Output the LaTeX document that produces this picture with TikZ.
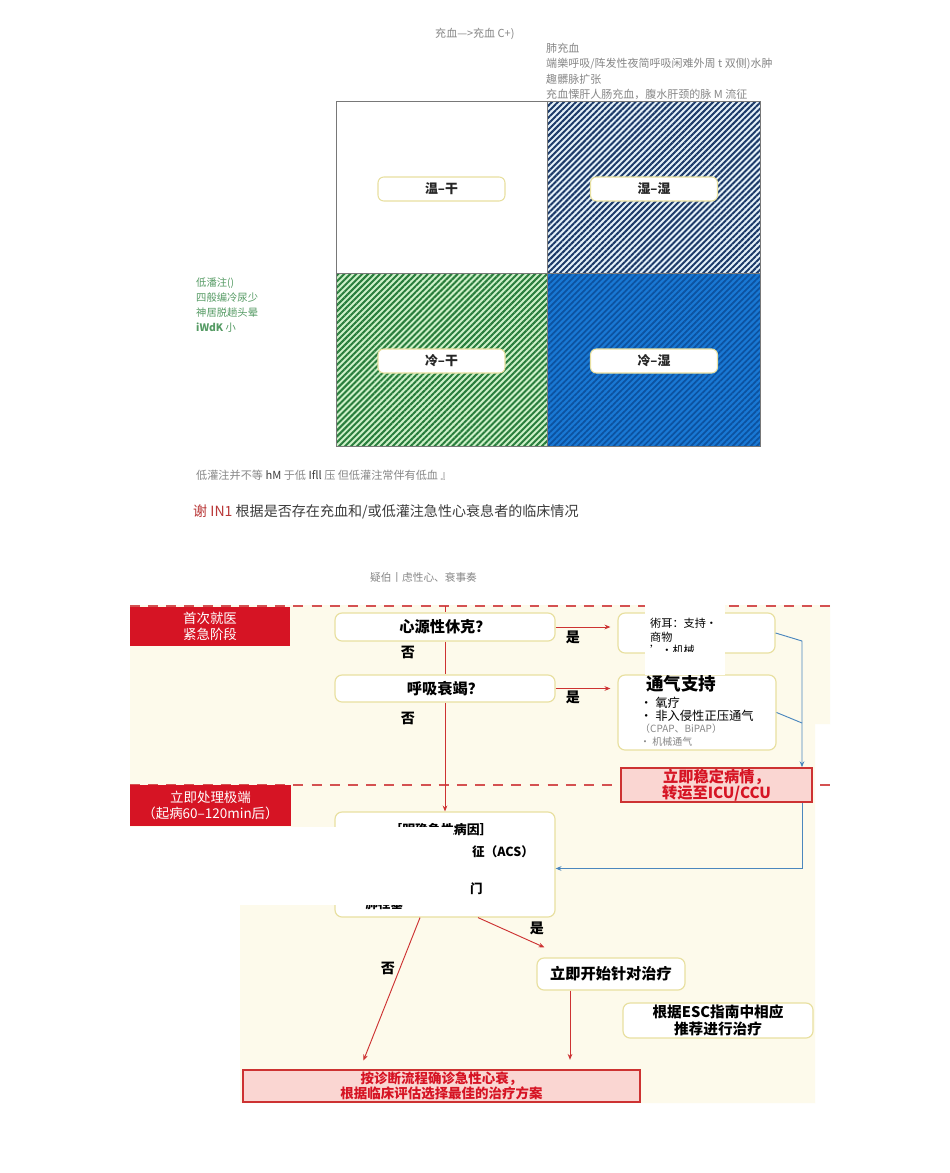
\documentclass[tikz,border=0pt]{standalone}
\usepackage{fontspec}
\setmainfont{Noto Sans CJK SC}
\usetikzlibrary{arrows.meta,positioning,calc,patterns.meta}
\definecolor{inkGray}{RGB}{135,135,135}
\definecolor{inkDark}{RGB}{60,60,60}
\definecolor{leafGreen}{RGB}{85,155,100}
\definecolor{capRed}{RGB}{185,55,55}
\definecolor{creamBg}{RGB}{253,250,235}
\definecolor{alarmRed}{RGB}{214,20,36}
\definecolor{flowRed}{RGB}{205,50,50}
\definecolor{pinkFill}{RGB}{250,214,210}
\definecolor{boxEdge}{RGB}{232,224,160}
\definecolor{linkBlue}{RGB}{75,135,190}
\definecolor{navyLine}{RGB}{28,58,105}
\definecolor{paleBlue}{RGB}{228,240,248}
\definecolor{grassLine}{RGB}{40,125,60}
\definecolor{paleGreen}{RGB}{205,240,200}
\definecolor{deepBlue}{RGB}{25,120,212}
\definecolor{stripeBlue}{RGB}{12,82,160}
\definecolor{frameGray}{RGB}{120,120,120}
\tikzset{
  noteText/.style={anchor=west, inner sep=0pt, text=inkGray, font=\fontsize{9.4pt}{11pt}\selectfont},
  quadTag/.style={draw=boxEdge, line width=0.9pt, fill=white, rounded corners=5pt, minimum width=3.81cm, minimum height=0.72cm, inner sep=0pt, text=black!85, font=\fontsize{11pt}{13pt}\selectfont\bfseries},
  phaseBox/.style={fill=alarmRed, text=white, align=center, inner sep=0pt, minimum width=4.8cm, minimum height=1.17cm, font=\fontsize{11.5pt}{13.5pt}\selectfont},
  askBox/.style={draw=boxEdge, line width=1pt, fill=white, rounded corners=6pt, inner sep=0pt, text=black, font=\fontsize{13pt}{15pt}\selectfont\bfseries},
  urgeBox/.style={draw=flowRed, line width=1.4pt, fill=pinkFill, inner sep=0pt, align=center, text=alarmRed},
  redLink/.style={draw=flowRed, line width=0.8pt},
  redArrow/.style={redLink, -{Stealth[length=5pt,width=4pt]}},
  blueLink/.style={draw=linkBlue, line width=0.8pt},
  blueArrow/.style={blueLink, -{Stealth[length=5pt,width=4pt]}},
  answer/.style={inner sep=0pt, font=\fontsize{12pt}{14pt}\selectfont\bfseries},
  phaseRule/.style={draw=flowRed!85, line width=1.3pt, dash pattern=on 8.5pt off 7pt},
  scrapText/.style={anchor=west, inner sep=0pt, font=\fontsize{9.5pt}{11pt}\selectfont}
}
\begin{document}
\begin{tikzpicture}[x=0.03cm, y=-0.03cm]
\fill[white] (0,0) rectangle (950,1173);
\useasboundingbox (0,0) rectangle (950,1173);

% upper figure
\node[noteText] (congTitle) at (435,34) {充血—>充血 C+)};
\node[noteText] (congA) at (546,48) {肺充血};
\node[noteText] (congB) at (546,64) {端樂呼吸/阵发性夜简呼吸闲难外周 t 双侧)水肿};
\node[noteText] (congC) at (546,79) {趣髒脉扩张};
\node[noteText] (congD) at (546,94) {充血慄肝人肠充血，腹水肝颈的脉 M 流征};

\fill[paleBlue] (547,101) rectangle (760,273);
\fill[pattern={Lines[angle=45,distance=3.6pt,line width=1.7pt]}, pattern color=navyLine] (547,101) rectangle (760,273);
\fill[paleGreen] (336,273) rectangle (547,446);
\fill[pattern={Lines[angle=45,distance=3.6pt,line width=1.7pt]}, pattern color=grassLine] (336,273) rectangle (547,446);
\fill[deepBlue] (547,273) rectangle (760,446);
\fill[pattern={Lines[angle=45,distance=3.6pt,line width=1.5pt]}, pattern color=stripeBlue] (547,273) rectangle (760,446);
\draw[frameGray, line width=0.7pt] (336,101) rectangle (760,446) (547,101) -- (547,446) (336,273) -- (760,273);

\node[quadTag] (warmDry) at (441.5,189) {温–干};
\node[quadTag] (warmWet) at (654,189) {湿–湿};
\node[quadTag] (coldDry) at (441.5,361) {冷–干};
\node[quadTag] (coldWet) at (654,361) {冷–湿};

\node[noteText, text=leafGreen, font=\fontsize{8.8pt}{10pt}\selectfont] (lowA) at (196,283) {低潘注()};
\node[noteText, text=leafGreen, font=\fontsize{8.8pt}{10pt}\selectfont] (lowB) at (196,298) {四般编冷尿少};
\node[noteText, text=leafGreen, font=\fontsize{8.8pt}{10pt}\selectfont] (lowC) at (196,313) {神居脱趟头晕};
\node[noteText, text=leafGreen, font=\fontsize{8.8pt}{10pt}\selectfont] (lowD) at (196,328) {\textbf{iWdK} 小};

\node[noteText, font=\fontsize{9.5pt}{11pt}\selectfont] (lowNote) at (196,475) {低灌注并不等 {\color{inkDark}hM} 于低 {\color{inkDark}Ifll} 压 但低灌注常伴有低血 』};
\node[noteText, text=inkDark, font=\fontsize{12pt}{14pt}\selectfont] (figCap) at (193,512) {{\color{capRed}谢 IN1} 根据是否存在充血和/或低灌注急性心衰息者的临床情况};
\node[noteText, font=\fontsize{9.1pt}{11pt}\selectfont] (flowCap) at (370,577) {疑伯丨虑性心、衰事奏};

% flow chart
\fill[creamBg] (130,605) -- (830,605) -- (830,724) -- (815,724) -- (815,1103) -- (240,1103) -- (240,828) -- (130,828) -- cycle;
\draw[phaseRule] (130,606) -- (830,606);
\draw[phaseRule] (130,785) -- (830,785);
\node[phaseBox] (firstVisit) at (210,626.5) {首次就医\\紧急阶段};
\node[phaseBox, minimum height=1.23cm] (swiftCare) at (210.5,805.5) {立即处理极端\\（起病60–120min后）};

\coordinate (trunkTop) at (445,606);
\node[askBox, minimum width=6.6cm, minimum height=0.84cm] (shockQ) at (445,627) {心源性休克？};
\node[askBox, minimum width=6.6cm, minimum height=0.81cm] (breathQ) at (445,688.5) {呼吸衰竭？};
\node[askBox, minimum width=4.71cm, minimum height=1.2cm] (drugBox) at (696.5,633) {};
\node[askBox, minimum width=4.74cm, minimum height=2.25cm] (ventBox) at (697,712.5) {};
\node[scrapText, font=\fontsize{15pt}{17pt}\selectfont\bfseries] (ventTitle) at (646,684) {通气支持};
\node[anchor=north west, align=left, inner sep=0pt, font=\fontsize{10.5pt}{10.8pt}\selectfont] (ventText) at (640,697) {• 氧疗\\• 非入侵性正压通气\\{\color{inkGray}\fontsize{8.5pt}{10.8pt}\selectfont （CPAP、BiPAP）}\\{\color{inkGray}\fontsize{8.5pt}{10.8pt}\selectfont • 机械通气}};
\fill[white] (645,603) rectangle (725,675);
\node[scrapText] (drugA) at (650,623) {術耳：支持·};
\node[scrapText] (drugB) at (650,637) {商物};
\begin{scope}
\clip (645,640) rectangle (725,651);
\node[scrapText] (drugC) at (650,650) {'•机械};
\end{scope}

\node[urgeBox, minimum width=5.73cm, minimum height=1.02cm, font=\fontsize{13pt}{13.5pt}\selectfont\bfseries] (stableBox) at (716.5,785) {立即稳定病情，\\转运至ICU/CCU};

\node[askBox, minimum width=6.6cm, minimum height=3.15cm] (acsBox) at (445,864.5) {};
\node[inner sep=0pt, font=\fontsize{11pt}{13pt}\selectfont\bfseries] (acsHead) at (441,830) {［明确急性病因］};
\node[scrapText, font=\fontsize{10.7pt}{12pt}\selectfont\bfseries] (acsItemA) at (472,852) {征（ACS）};
\node[scrapText, font=\fontsize{10.7pt}{12pt}\selectfont\bfseries] (acsItemB) at (470,889) {门};
\node[scrapText, font=\fontsize{10.7pt}{12pt}\selectfont\bfseries] (acsItemC) at (350,904) {• 肺栓塞};
\fill[white] (130,827) rectangle (453,905);

\node[askBox, minimum width=4.44cm, minimum height=0.96cm] (startTx) at (611,974) {立即开始针对治疗};
\node[askBox, minimum width=5.7cm, minimum height=1.05cm, align=center, font=\fontsize{12.5pt}{14pt}\selectfont\bfseries] (escBox) at (718,1020.5) {根据ESC指南中相应\\推荐进行治疗};
\node[urgeBox, minimum width=11.91cm, minimum height=0.96cm, font=\fontsize{11.5pt}{12.5pt}\selectfont\bfseries] (planBox) at (441.5,1086) {按诊断流程确诊急性心衰，\\根据临床评估选择最佳的治疗方案};

\coordinate (joinA) at (802,641);
\coordinate (joinB) at (802,723);
\draw[blueArrow] (drugBox.east) -- (joinA) -- (joinA |- stableBox.north);
\draw[blueLink] (ventBox.east) -- (joinB);
\draw[blueArrow] (joinA |- stableBox.south) -- ($(joinA |- acsBox.east)+(0,4)$) -- ($(acsBox.east)+(0,4)$);

\draw[redLink] (trunkTop) -- (shockQ.north);
\draw[redLink] (shockQ.south) -- (breathQ.north);
\draw[redArrow] (breathQ.south) -- (acsBox.north);
\draw[redArrow, shorten >=6pt] (shockQ.east) -- (shockQ.east -| drugBox.west);
\draw[redArrow, shorten >=6pt] (breathQ.east) -- (breathQ.east -| ventBox.west);
\draw[redArrow, shorten >=8pt] ($(acsBox.south)+(-25,0)$) -- ($(planBox.north)+(-81.5,0)$);
\draw[redArrow] ($(acsBox.south)+(33,0)$) -- ($(startTx.north west)+(8,-10)$);
\draw[redArrow, shorten >=8pt] ($(startTx.south)+(-41,0)$) -- ($(planBox.north)+(128.5,0)$);

\node[answer] (yesA) at (573,637) {是};
\node[answer] (noA) at (408,652) {否};
\node[answer] (yesB) at (573,697) {是};
\node[answer] (noB) at (408,718) {否};
\node[answer] (yesC) at (537,928) {是};
\node[answer] (noC) at (388,968) {否};
\end{tikzpicture}
\end{document}
